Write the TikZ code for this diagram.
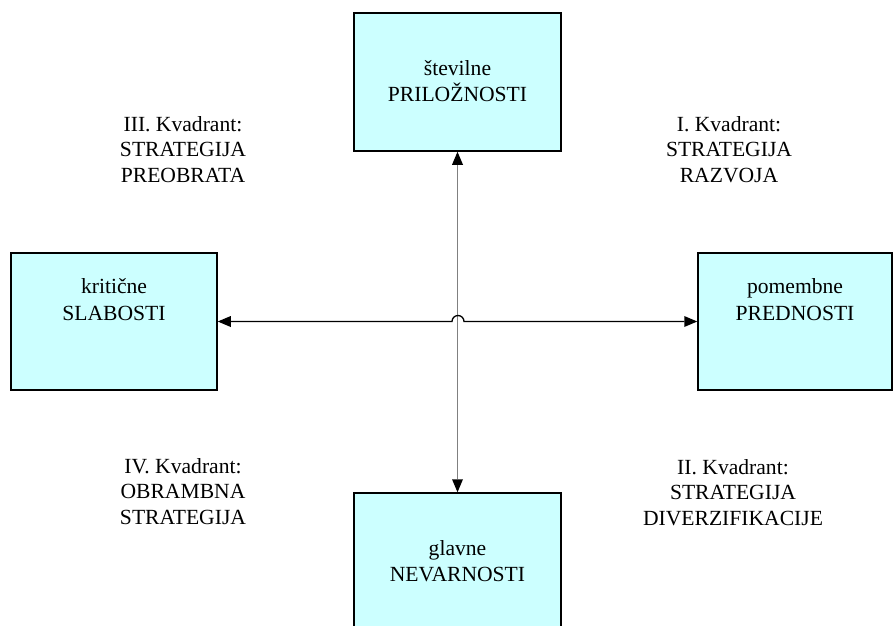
\documentclass[tikz,border=0pt]{standalone}
\usepackage{fontspec}
\setmainfont{Liberation Serif}
\usetikzlibrary{arrows.meta}
\definecolor{boxfill}{RGB}{204,255,255}
\definecolor{axisgray}{RGB}{128,128,128}
\begin{document}
\begin{tikzpicture}[x=1pt,y=-1pt,
  swotbox/.style={draw=black,line width=1.5pt,fill=boxfill,rectangle,inner sep=0pt},
  % base anchor of a multi-line node sits on its last line
  boxtext/.style={align=center,anchor=base,inner sep=0pt,
    font=\fontsize{21.6}{26.7}\selectfont},
  quadtext/.style={align=center,anchor=base,inner sep=0pt,
    font=\fontsize{21.6}{25.5}\selectfont},
  axistip/.tip={Triangle[length=13pt,width=11pt,color=black,line width=0pt]},
  vaxis/.style={draw=axisgray,line width=1.7pt,{axistip}-{axistip}},
  haxis/.style={draw=black,line width=1.3pt,{axistip}-{axistip}}]
\clip (0,0) rectangle (893,625);
\fill[white] (0,0) rectangle (893,625);

% the four boxes
\node[swotbox,minimum width=207pt,minimum height=138pt] (T) at (457.5,82) {};
\node[swotbox,minimum width=206pt,minimum height=137pt] (L) at (114,321.5) {};
\node[swotbox,minimum width=194pt,minimum height=137pt] (R) at (795,321.5) {};
\node[swotbox,minimum width=207pt,minimum height=138pt] (B) at (457.5,562) {};

% box captions
\node[boxtext] (Tt) at (457.5,101.7) {številne\\PRILOŽNOSTI};
\node[boxtext] (Lt) at (114,320) {kritične\\SLABOSTI};
\node[boxtext] (Rt) at (795,320) {pomembne\\PREDNOSTI};
\node[boxtext] (Bt) at (457.5,581.7) {glavne\\NEVARNOSTI};

% quadrant labels
\node[quadtext] (Q3) at (183,182) {III. Kvadrant:\\STRATEGIJA\\PREOBRATA};
\node[quadtext] (Q1) at (729,182) {I. Kvadrant:\\STRATEGIJA\\RAZVOJA};
\node[quadtext] (Q4) at (183,524) {IV. Kvadrant:\\OBRAMBNA\\STRATEGIJA};
\node[quadtext] (Q2) at (733,525) {II. Kvadrant:\\STRATEGIJA\\DIVERZIFIKACIJE};

% axes: vertical one straight, horizontal one hops over it
\coordinate (hopL) at (452,321.5);
\draw[vaxis] (T.south) -- (B.north);
\draw[haxis] (L.east) -- (hopL) arc (180:360:6) -- (R.west);
\end{tikzpicture}
\end{document}
